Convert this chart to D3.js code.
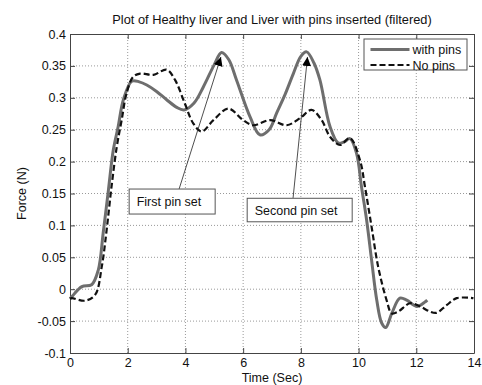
<!DOCTYPE html>
<html>
<head>
<meta charset="utf-8">
<script src="https://cdn.jsdelivr.net/npm/d3@7"></script>
<style>
  html, body { margin: 0; padding: 0; background: #fff; }
  svg { display: block; font-family: "Liberation Sans", Arial, sans-serif; }
</style>
</head>
<body>
<svg id="chart" width="482" height="385"></svg>
<script>
// time (s) and force (N)
const withPinsTime = [0, 0.06, 0.41, 0.75, 0.98, 1.15, 1.33, 1.5, 1.67, 1.85, 2.14, 2.4, 2.66, 3.0, 3.35, 3.7, 3.95, 4.3, 4.62, 5.0, 5.25, 5.5, 5.77, 6.24, 6.58, 6.9, 7.16, 7.45, 7.74, 8.0, 8.2, 8.45, 8.66, 9.01, 9.3, 9.5, 9.7, 9.93, 10.1, 10.28, 10.45, 10.63, 10.8, 10.94, 11.15, 11.43, 11.67, 12.01, 12.3, 12.38];
const withPinsForce = [-0.015, -0.012, 0.004, 0.007, 0.03, 0.088, 0.155, 0.218, 0.255, 0.297, 0.326, 0.325, 0.32, 0.31, 0.297, 0.285, 0.281, 0.292, 0.317, 0.352, 0.371, 0.36, 0.328, 0.27, 0.242, 0.25, 0.276, 0.305, 0.338, 0.365, 0.372, 0.355, 0.328, 0.255, 0.229, 0.231, 0.236, 0.213, 0.161, 0.108, 0.046, -0.017, -0.053, -0.06, -0.038, -0.014, -0.017, -0.027, -0.02, -0.017];

const noPinsTime = [0, 0.06, 0.52, 0.87, 1.1, 1.27, 1.44, 1.62, 1.79, 1.96, 2.19, 2.43, 2.89, 3.35, 3.64, 3.98, 4.27, 4.56, 4.97, 5.49, 6.0, 6.35, 6.93, 7.51, 7.97, 8.37, 8.72, 9.01, 9.36, 9.7, 10.05, 10.22, 10.45, 10.68, 10.97, 11.15, 11.38, 11.78, 12.13, 12.47, 12.7, 13.05, 13.4, 13.98];
const noPinsForce = [-0.015, -0.014, -0.018, -0.009, 0.035, 0.093, 0.161, 0.223, 0.265, 0.307, 0.333, 0.338, 0.336, 0.344, 0.328, 0.291, 0.26, 0.247, 0.265, 0.283, 0.265, 0.257, 0.265, 0.257, 0.268, 0.281, 0.265, 0.239, 0.226, 0.237, 0.202, 0.161, 0.098, 0.035, -0.017, -0.038, -0.035, -0.022, -0.027, -0.035, -0.037, -0.025, -0.014, -0.014];

const xTicks = [0, 2, 4, 6, 8, 10, 12, 14];
const yTicks = [-0.1, -0.05, 0, 0.05, 0.1, 0.15, 0.2, 0.25, 0.3, 0.35, 0.4];

const notes = [
  { label: "First pin set", tip: [5.23, 0.364], tail: [3.78, 0.157], box: [2.05, 0.157], w: 86, h: 25 },
  { label: "Second pin set", tip: [8.23, 0.364], tail: [7.73, 0.143], box: [6.14, 0.1425], w: 105, h: 23.5 }
];

const svg = d3.select("#chart");
const margin = { left: 70, right: 8, top: 34, bottom: 32 };
const width = 482 - margin.left - margin.right;
const height = 385 - margin.top - margin.bottom;

const x = d3.scaleLinear().domain([0, 14]).range([0, width]);
const y = d3.scaleLinear().domain([-0.1, 0.4]).range([height, 0]);

svg.append("defs")
  .append("marker")
  .attr("id", "head")
  .attr("viewBox", "0 0 10 10")
  .attr("refX", 10)
  .attr("refY", 5)
  .attr("markerWidth", 9)
  .attr("markerHeight", 9)
  .attr("markerUnits", "userSpaceOnUse")
  .attr("orient", "auto")
  .append("path")
  .attr("d", "M0,0L10,5L0,10z")
  .attr("fill", "#000");

const g = svg.append("g").attr("transform", `translate(${margin.left},${margin.top})`);

// grid
g.append("g")
  .selectAll("line")
  .data(xTicks.slice(1, -1))
  .join("line")
  .attr("x1", (d) => x(d))
  .attr("x2", (d) => x(d))
  .attr("y1", 0)
  .attr("y2", height)
  .attr("stroke", "#999")
  .attr("stroke-dasharray", "1,2");

g.append("g")
  .selectAll("line")
  .data(yTicks.slice(1, -1))
  .join("line")
  .attr("x1", 0)
  .attr("x2", width)
  .attr("y1", (d) => y(d))
  .attr("y2", (d) => y(d))
  .attr("stroke", "#999")
  .attr("stroke-dasharray", "1,2");

// axes (MATLAB style: inward ticks on all four sides)
const fmtY = (d) => (Math.abs(d) < 1e-9 ? "0" : String(+d.toFixed(2)));
const styleAxis = (sel) => {
  sel.select(".domain").attr("stroke", "#444");
  sel.selectAll(".tick line").attr("stroke", "#444");
  sel.selectAll(".tick text").attr("fill", "#111").style("font-size", "12.5px");
};

g.append("g")
  .attr("transform", `translate(0,${height})`)
  .call(d3.axisBottom(x).tickValues(xTicks).tickSizeInner(-5).tickSizeOuter(0).tickPadding(5))
  .call(styleAxis);
g.append("g")
  .call(d3.axisTop(x).tickValues(xTicks).tickSizeInner(-5).tickSizeOuter(0).tickFormat(""))
  .call(styleAxis);
g.append("g")
  .call(d3.axisLeft(y).tickValues(yTicks).tickSizeInner(-5).tickSizeOuter(0).tickPadding(4).tickFormat(fmtY))
  .call(styleAxis);
g.append("g")
  .attr("transform", `translate(${width},0)`)
  .call(d3.axisRight(y).tickValues(yTicks).tickSizeInner(-5).tickSizeOuter(0).tickFormat(""))
  .call(styleAxis);

// series
const line = d3.line()
  .x((d) => x(d[0]))
  .y((d) => y(d[1]))
  .curve(d3.curveCatmullRom.alpha(0.5));

g.append("path")
  .datum(d3.zip(withPinsTime, withPinsForce))
  .attr("d", line)
  .attr("fill", "none")
  .attr("stroke", "#6e6e6e")
  .attr("stroke-width", 3);

g.append("path")
  .datum(d3.zip(noPinsTime, noPinsForce))
  .attr("d", line)
  .attr("fill", "none")
  .attr("stroke", "#111")
  .attr("stroke-width", 2.2)
  .attr("stroke-dasharray", "6,3");

// annotations
const note = g.append("g").selectAll("g").data(notes).join("g");
note.append("line")
  .attr("x1", (d) => x(d.tail[0]))
  .attr("y1", (d) => y(d.tail[1]))
  .attr("x2", (d) => x(d.tip[0]))
  .attr("y2", (d) => y(d.tip[1]))
  .attr("stroke", "#222")
  .attr("stroke-width", 0.8)
  .attr("marker-end", "url(#head)");
note.append("rect")
  .attr("x", (d) => x(d.box[0]))
  .attr("y", (d) => y(d.box[1]))
  .attr("width", (d) => d.w)
  .attr("height", (d) => d.h)
  .attr("fill", "#fff")
  .attr("stroke", "#555");
note.append("text")
  .attr("x", (d) => x(d.box[0]) + 7.5)
  .attr("y", (d) => y(d.box[1]) + d.h / 2 + 4.5)
  .style("font-size", "12.5px")
  .attr("fill", "#111")
  .text((d) => d.label);

// legend
const legend = g.append("g").attr("transform", `translate(${width - 110},5)`);
legend.append("rect")
  .attr("width", 103)
  .attr("height", 31)
  .attr("fill", "#fff")
  .attr("stroke", "#555");
const legendItems = [
  { label: "with pins", color: "#6e6e6e", w: 3, dash: null },
  { label: "No pins", color: "#111", w: 2.2, dash: "6,3" }
];
legendItems.forEach((d, i) => {
  const yy = 10.5 + i * 15.5;
  legend.append("line")
    .attr("x1", 6.5).attr("x2", 45.5)
    .attr("y1", yy).attr("y2", yy)
    .attr("stroke", d.color)
    .attr("stroke-width", d.w)
    .attr("stroke-dasharray", d.dash);
  legend.append("text")
    .attr("x", 48.5)
    .attr("y", yy + 4.5)
    .style("font-size", "12.5px")
    .attr("fill", "#111")
    .text(d.label);
});

// titles
svg.append("text")
  .attr("x", margin.left + width / 2)
  .attr("y", 24)
  .attr("text-anchor", "middle")
  .style("font-size", "12.8px")
  .attr("fill", "#111")
  .text("Plot of Healthy liver and Liver with pins inserted (filtered)");

svg.append("text")
  .attr("x", margin.left + width / 2)
  .attr("y", 382)
  .attr("text-anchor", "middle")
  .style("font-size", "12.5px")
  .attr("fill", "#111")
  .text("Time (Sec)");

svg.append("text")
  .attr("transform", `translate(26,${margin.top + height / 2}) rotate(-90)`)
  .attr("text-anchor", "middle")
  .style("font-size", "12.5px")
  .attr("fill", "#111")
  .text("Force (N)");
</script>
</body>
</html>
